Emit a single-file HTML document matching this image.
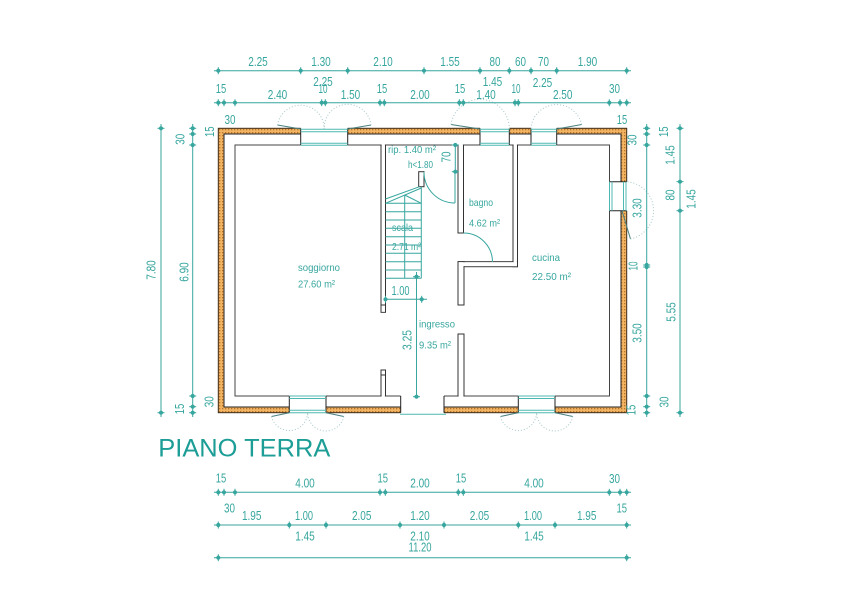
<!DOCTYPE html>
<html><head><meta charset="utf-8"><style>
html,body{margin:0;padding:0;background:#fff;}
svg{display:block}
text{font-family:"Liberation Sans",sans-serif;fill:#37a69e;stroke:none}
.d{font-size:13px}
.r{font-size:10.5px}
.ti{font-size:25px;fill:#1c9d96}
</style></head><body>
<svg width="848" height="600" viewBox="0 0 848 600" xmlns="http://www.w3.org/2000/svg">
<defs>
<pattern id="h" width="3" height="3" patternUnits="userSpaceOnUse"><rect width="3" height="3" fill="#f2b460"/><rect width="1.3" height="1.3" fill="#b57530"/></pattern>
<g id="t"><circle r="1.6"/><line x1="0" y1="-3.5" x2="0" y2="3.5"/></g>
<g id="v"><circle r="1.6"/><line x1="-3.5" y1="0" x2="3.5" y2="0"/></g>
</defs>
<rect width="848" height="600" fill="#fff"/>

<!-- outer walls -->
<rect x="218.3" y="128.3" width="408.4" height="284.4" fill="url(#h)" stroke="#3b2a1a" stroke-width="1"/>
<rect x="224" y="134" width="397" height="273" fill="#fff" stroke="#222" stroke-width="1"/>
<rect x="235" y="145" width="374.5" height="251" fill="#fff" stroke="#444" stroke-width="1"/>

<!-- openings -->
<g fill="#fff" stroke="none">
<rect x="300.7" y="127" width="47" height="19"/>
<rect x="480" y="127" width="29.3" height="19"/>
<rect x="531" y="127" width="25.7" height="19"/>
<rect x="608.5" y="181.7" width="19.5" height="29"/>
<rect x="289.3" y="395" width="36.7" height="19"/>
<rect x="518.3" y="395" width="36.7" height="19"/>
<rect x="400.7" y="395" width="43.3" height="19"/>
</g>
<g stroke="#222" stroke-width="1">
<line x1="300.7" y1="128.3" x2="300.7" y2="145"/><line x1="347.7" y1="128.3" x2="347.7" y2="145"/>
<line x1="480" y1="128.3" x2="480" y2="145"/><line x1="509.3" y1="128.3" x2="509.3" y2="145"/>
<line x1="531" y1="128.3" x2="531" y2="145"/><line x1="556.7" y1="128.3" x2="556.7" y2="145"/>
<line x1="609.5" y1="181.7" x2="626.7" y2="181.7"/><line x1="609.5" y1="210.7" x2="626.7" y2="210.7"/>
<line x1="289.3" y1="396" x2="289.3" y2="412.7"/><line x1="326" y1="396" x2="326" y2="412.7"/>
<line x1="518.3" y1="396" x2="518.3" y2="412.7"/><line x1="555" y1="396" x2="555" y2="412.7"/>
<line x1="400.7" y1="396" x2="400.7" y2="412.7"/><line x1="444" y1="396" x2="444" y2="412.7"/>
</g>
<!-- window frames -->
<g stroke="#4fb8b0" stroke-width="1" fill="none">
<path d="M300.7 129.3H347.7M300.7 131.8H347.7M300.7 143.2H347.7M300.7 145.3H347.7"/>
<path d="M480 129.3H509.3M480 131.8H509.3M480 143.2H509.3M480 145.3H509.3"/>
<path d="M531 129.3H556.7M531 131.8H556.7M531 143.2H556.7M531 145.3H556.7"/>
<path d="M609.5 181.7V210.7M612 181.7V210.7M623.5 181.7V210.7M626 181.7V210.7"/>
<path d="M289.3 396H326M289.3 398.5H326M289.3 410.3H326M289.3 412.7H326"/>
<path d="M518.3 396H555M518.3 398.5H555M518.3 410.3H555M518.3 412.7H555"/>
<path d="M400 414.3H446"/>
</g>

<!-- door leaves and swings -->
<g stroke="#4a8080" stroke-width="1" fill="none">
<line x1="300.7" y1="129" x2="277.5" y2="125"/>
<line x1="347.7" y1="129" x2="371" y2="125"/>
<line x1="480" y1="129" x2="451" y2="124.5"/>
<line x1="556.7" y1="129" x2="581.7" y2="124.5"/>
<line x1="622" y1="210.7" x2="630.5" y2="239"/>
<line x1="289.3" y1="412.7" x2="271.5" y2="416.5"/>
<line x1="326" y1="412.7" x2="343.8" y2="416.5"/>
<line x1="518.3" y1="412.7" x2="500.5" y2="416.5"/>
<line x1="555" y1="412.7" x2="572.8" y2="416.5"/>
</g>
<g stroke="#a6c8c8" stroke-width="1" fill="none" stroke-dasharray="1 2">
<path d="M277.5 125A23.5 23.5 0 0 1 324.2 129"/>
<path d="M371 125A23.5 23.5 0 0 0 324.2 129"/>
<path d="M451 124.5A29.3 29.3 0 0 1 509.3 129"/>
<path d="M581.7 124.5A25.7 25.7 0 0 0 531 129"/>
<path d="M630.5 239A29 29 0 0 0 626.7 181.7"/>
<path d="M271.5 416.5A18.3 18.3 0 0 0 307.6 412.7"/>
<path d="M343.8 416.5A18.3 18.3 0 0 1 307.6 412.7"/>
<path d="M500.5 416.5A18.3 18.3 0 0 0 536.6 412.7"/>
<path d="M572.8 416.5A18.3 18.3 0 0 1 536.6 412.7"/>
</g>

<!-- partitions -->
<g fill="#fff" stroke="#333" stroke-width="1">
<rect x="381" y="145" width="4.5" height="167.3"/>
<rect x="381" y="370" width="4.5" height="26"/>
<rect x="458" y="145" width="5.5" height="88"/>
<rect x="513" y="145" width="4.5" height="121.7"/>
<rect x="458" y="261.7" width="59.5" height="5"/>
<rect x="458" y="261.7" width="6" height="43.3"/>
<rect x="458" y="334" width="6" height="62"/>
<rect x="418.7" y="171.7" width="5.3" height="15"/>
</g>
<g fill="#fff" stroke="none">
<rect x="381.6" y="143.5" width="3.3" height="168.2"/>
<rect x="381.6" y="370.6" width="3.3" height="27"/>
<rect x="458.6" y="143.5" width="4.3" height="88.9"/>
<rect x="513.6" y="143.5" width="3.3" height="122.6"/>
<rect x="458.6" y="262.3" width="58.3" height="3.8"/>
<rect x="458.6" y="262.3" width="4.8" height="42.1"/>
<rect x="458.6" y="334.6" width="4.8" height="63"/>
</g>
<g stroke="#333" stroke-width="1">
<line x1="381" y1="305" x2="385.5" y2="305"/>
<line x1="381" y1="375" x2="385.5" y2="375"/>
</g>

<!-- interior doors -->
<g stroke="#37a69e" stroke-width="1" fill="none">
<path d="M424 172A31 31 0 0 0 455 203"/>
<line x1="455" y1="172" x2="455" y2="203"/>
<path d="M463.5 233A29 29 0 0 1 492.5 262"/>
</g>

<!-- stairs -->
<g stroke="#37a69e" stroke-width="1" fill="none">
<line x1="421.3" y1="186.7" x2="421.3" y2="278.3"/>
<path d="M385.5 203.3H421.3M385.5 211.7H421.3M385.5 220H421.3M385.5 228.3H421.3M385.5 236.7H421.3M385.5 245H421.3M385.5 253.3H421.3M385.5 261.7H421.3M385.5 270H421.3M385.5 278.3H421.3"/>
<line x1="385.5" y1="203.3" x2="421.3" y2="188"/>
<line x1="385.5" y1="199" x2="419.5" y2="186.7"/>
<line x1="404.7" y1="195" x2="421.3" y2="203.3"/>
<line x1="404.7" y1="195" x2="404.7" y2="278.3"/>
</g>

<!-- dimension lines -->
<g stroke="#37a69e" stroke-width="1" fill="#37a69e">
<line x1="214" y1="70.7" x2="631" y2="70.7"/>
<line x1="214" y1="102.7" x2="631" y2="102.7"/>
<line x1="161" y1="124" x2="161" y2="417"/>
<line x1="192.7" y1="124" x2="192.7" y2="417"/>
<line x1="646.7" y1="124" x2="646.7" y2="417"/>
<line x1="680" y1="124" x2="680" y2="417"/>
<line x1="214" y1="492.3" x2="631" y2="492.3"/>
<line x1="214" y1="525" x2="631" y2="525"/>
<line x1="214" y1="557.7" x2="631" y2="557.7"/>
<line x1="455.3" y1="145" x2="455.3" y2="171.7"/>
<line x1="385" y1="299.3" x2="427" y2="299.3"/>
<line x1="416.5" y1="272" x2="416.5" y2="396.7"/>

<use href="#t" x="218.3" y="70.7"/><use href="#t" x="300.7" y="70.7"/><use href="#t" x="347.7" y="70.7"/><use href="#t" x="424" y="70.7"/><use href="#t" x="480" y="70.7"/><use href="#t" x="509.3" y="70.7"/><use href="#t" x="531" y="70.7"/><use href="#t" x="556.7" y="70.7"/><use href="#t" x="626.7" y="70.7"/>

<use href="#t" x="218.3" y="102.7"/><use href="#t" x="224" y="102.7"/><use href="#t" x="235" y="102.7"/><use href="#t" x="321.7" y="102.7"/><use href="#t" x="325.3" y="102.7"/><use href="#t" x="380" y="102.7"/><use href="#t" x="384.3" y="102.7"/><use href="#t" x="459.3" y="102.7"/><use href="#t" x="463.3" y="102.7"/><use href="#t" x="515" y="102.7"/><use href="#t" x="518.3" y="102.7"/><use href="#t" x="609.3" y="102.7"/><use href="#t" x="620" y="102.7"/><use href="#t" x="626.7" y="102.7"/>

<use href="#v" x="161" y="128.3"/><use href="#v" x="161" y="412.7"/>
<use href="#v" x="192.7" y="128.3"/><use href="#v" x="192.7" y="134"/><use href="#v" x="192.7" y="145"/><use href="#v" x="192.7" y="396"/><use href="#v" x="192.7" y="406.7"/><use href="#v" x="192.7" y="412.7"/>
<use href="#v" x="646.7" y="128.3"/><use href="#v" x="646.7" y="134"/><use href="#v" x="646.7" y="145"/><use href="#v" x="646.7" y="265"/><use href="#v" x="646.7" y="267"/><use href="#v" x="646.7" y="396"/><use href="#v" x="646.7" y="406.7"/><use href="#v" x="646.7" y="412.7"/>
<use href="#v" x="680" y="128.3"/><use href="#v" x="680" y="181.7"/><use href="#v" x="680" y="210.7"/><use href="#v" x="680" y="412.7"/>

<use href="#t" x="218.3" y="492.3"/><use href="#t" x="224" y="492.3"/><use href="#t" x="235" y="492.3"/><use href="#t" x="380" y="492.3"/><use href="#t" x="385.3" y="492.3"/><use href="#t" x="458.3" y="492.3"/><use href="#t" x="463.3" y="492.3"/><use href="#t" x="609.3" y="492.3"/><use href="#t" x="620" y="492.3"/><use href="#t" x="626.7" y="492.3"/>

<use href="#t" x="218.3" y="525"/><use href="#t" x="289.3" y="525"/><use href="#t" x="326" y="525"/><use href="#t" x="400" y="525"/><use href="#t" x="444" y="525"/><use href="#t" x="518.3" y="525"/><use href="#t" x="555" y="525"/><use href="#t" x="626.7" y="525"/>

<use href="#t" x="218.3" y="557.7"/><use href="#t" x="626.7" y="557.7"/>

<use href="#v" x="455.3" y="145"/><use href="#v" x="455.3" y="171.7"/>
<use href="#t" x="385.5" y="299.3"/><use href="#t" x="421.7" y="299.3"/>
<use href="#v" x="416.5" y="276.7"/><use href="#v" x="416.5" y="396.7"/>
</g>

<!-- dimension labels horizontal -->
<g class="d" text-anchor="middle">
<text class="d" x="258" y="66" textLength="19.5" lengthAdjust="spacingAndGlyphs">2.25</text>
<text class="d" x="321" y="66" textLength="19.5" lengthAdjust="spacingAndGlyphs">1.30</text>
<text class="d" x="383" y="66" textLength="19.5" lengthAdjust="spacingAndGlyphs">2.10</text>
<text class="d" x="450" y="66" textLength="19.5" lengthAdjust="spacingAndGlyphs">1.55</text>
<text class="d" x="495" y="66" textLength="11" lengthAdjust="spacingAndGlyphs">80</text>
<text class="d" x="520.5" y="66" textLength="11" lengthAdjust="spacingAndGlyphs">60</text>
<text class="d" x="543.5" y="66" textLength="11" lengthAdjust="spacingAndGlyphs">70</text>
<text class="d" x="587.5" y="66" textLength="19.5" lengthAdjust="spacingAndGlyphs">1.90</text>

<text class="d" x="323" y="86" textLength="19.5" lengthAdjust="spacingAndGlyphs">2.25</text>
<text class="d" x="492.5" y="86" textLength="19.5" lengthAdjust="spacingAndGlyphs">1.45</text>
<text class="d" x="542.5" y="87" textLength="19.5" lengthAdjust="spacingAndGlyphs">2.25</text>

<text class="d" x="221" y="93" textLength="10.5" lengthAdjust="spacingAndGlyphs">15</text>
<text class="d" x="323" y="93" textLength="9" lengthAdjust="spacingAndGlyphs">10</text>
<text class="d" x="382" y="93" textLength="10.5" lengthAdjust="spacingAndGlyphs">15</text>
<text class="d" x="460" y="93" textLength="10.5" lengthAdjust="spacingAndGlyphs">15</text>
<text class="d" x="516" y="93" textLength="9" lengthAdjust="spacingAndGlyphs">10</text>
<text class="d" x="614.5" y="93" textLength="11" lengthAdjust="spacingAndGlyphs">30</text>

<text class="d" x="277.5" y="99" textLength="19.5" lengthAdjust="spacingAndGlyphs">2.40</text>
<text class="d" x="350.5" y="99" textLength="19.5" lengthAdjust="spacingAndGlyphs">1.50</text>
<text class="d" x="420" y="99" textLength="19.5" lengthAdjust="spacingAndGlyphs">2.00</text>
<text class="d" x="486" y="99" textLength="19.5" lengthAdjust="spacingAndGlyphs">1.40</text>
<text class="d" x="562.7" y="99" textLength="19.5" lengthAdjust="spacingAndGlyphs">2.50</text>

<text class="d" x="230" y="124" textLength="11" lengthAdjust="spacingAndGlyphs">30</text>
<text class="d" x="622" y="124" textLength="10.5" lengthAdjust="spacingAndGlyphs">15</text>

<text class="d" x="221" y="482.7" textLength="10.5" lengthAdjust="spacingAndGlyphs">15</text>
<text class="d" x="305" y="487.3" textLength="19.5" lengthAdjust="spacingAndGlyphs">4.00</text>
<text class="d" x="382.7" y="482.7" textLength="10.5" lengthAdjust="spacingAndGlyphs">15</text>
<text class="d" x="420" y="487.3" textLength="19.5" lengthAdjust="spacingAndGlyphs">2.00</text>
<text class="d" x="461" y="482.7" textLength="10.5" lengthAdjust="spacingAndGlyphs">15</text>
<text class="d" x="534" y="487.3" textLength="19.5" lengthAdjust="spacingAndGlyphs">4.00</text>
<text class="d" x="614.5" y="483" textLength="11" lengthAdjust="spacingAndGlyphs">30</text>
<text class="d" x="229.5" y="512.7" textLength="11" lengthAdjust="spacingAndGlyphs">30</text>
<text class="d" x="621.7" y="512.7" textLength="10.5" lengthAdjust="spacingAndGlyphs">15</text>

<text class="d" x="251.7" y="520" textLength="19.5" lengthAdjust="spacingAndGlyphs">1.95</text>
<text class="d" x="304" y="520" textLength="18" lengthAdjust="spacingAndGlyphs">1.00</text>
<text class="d" x="361.7" y="520" textLength="19.5" lengthAdjust="spacingAndGlyphs">2.05</text>
<text class="d" x="420" y="520" textLength="19.5" lengthAdjust="spacingAndGlyphs">1.20</text>
<text class="d" x="479.5" y="520" textLength="19.5" lengthAdjust="spacingAndGlyphs">2.05</text>
<text class="d" x="533" y="520" textLength="18" lengthAdjust="spacingAndGlyphs">1.00</text>
<text class="d" x="586.7" y="520" textLength="19.5" lengthAdjust="spacingAndGlyphs">1.95</text>

<text class="d" x="305" y="540.7" textLength="19.5" lengthAdjust="spacingAndGlyphs">1.45</text>
<text class="d" x="420" y="540.7" textLength="19.5" lengthAdjust="spacingAndGlyphs">2.10</text>
<text class="d" x="534" y="540.7" textLength="19.5" lengthAdjust="spacingAndGlyphs">1.45</text>
<text class="d" x="420" y="551.7" textLength="23" lengthAdjust="spacingAndGlyphs">11.20</text>

<text class="d" x="400.5" y="295" textLength="18" lengthAdjust="spacingAndGlyphs">1.00</text>
</g>

<!-- rotated labels -->
<g text-anchor="middle">
<text class="d" dy="4.6" transform="translate(151,270) rotate(-90)" textLength="19.5" lengthAdjust="spacingAndGlyphs">7.80</text>
<text class="d" dy="4.6" transform="translate(184,272) rotate(-90)" textLength="19.5" lengthAdjust="spacingAndGlyphs">6.90</text>
<text class="d" dy="4.6" transform="translate(180,139.3) rotate(-90)" textLength="11" lengthAdjust="spacingAndGlyphs">30</text>
<text class="d" dy="4.6" transform="translate(209.3,131.7) rotate(-90)" textLength="10.5" lengthAdjust="spacingAndGlyphs">15</text>
<text class="d" dy="4.6" transform="translate(179.3,409) rotate(-90)" textLength="10.5" lengthAdjust="spacingAndGlyphs">15</text>
<text class="d" dy="4.6" transform="translate(209,401.7) rotate(-90)" textLength="11" lengthAdjust="spacingAndGlyphs">30</text>

<text class="d" dy="4.6" transform="translate(632,140) rotate(-90)" textLength="11" lengthAdjust="spacingAndGlyphs">30</text>
<text class="d" dy="4.6" transform="translate(663.3,131.7) rotate(-90)" textLength="10.5" lengthAdjust="spacingAndGlyphs">15</text>
<text class="d" dy="4.6" transform="translate(670,155) rotate(-90)" textLength="19.5" lengthAdjust="spacingAndGlyphs">1.45</text>
<text class="d" dy="4.6" transform="translate(670,195) rotate(-90)" textLength="11" lengthAdjust="spacingAndGlyphs">80</text>
<text class="d" dy="4.6" transform="translate(637,208) rotate(-90)" textLength="19.5" lengthAdjust="spacingAndGlyphs">3.30</text>
<text class="d" dy="4.6" transform="translate(633,266) rotate(-90)" textLength="9" lengthAdjust="spacingAndGlyphs">10</text>
<text class="d" dy="4.6" transform="translate(671,312) rotate(-90)" textLength="19.5" lengthAdjust="spacingAndGlyphs">5.55</text>
<text class="d" dy="4.6" transform="translate(637,333) rotate(-90)" textLength="19.5" lengthAdjust="spacingAndGlyphs">3.50</text>
<text class="d" dy="4.6" transform="translate(664,402) rotate(-90)" textLength="11" lengthAdjust="spacingAndGlyphs">30</text>
<text class="d" dy="4.6" transform="translate(631,410) rotate(-90)" textLength="10.5" lengthAdjust="spacingAndGlyphs">15</text>
<text class="d" dy="4.6" transform="translate(691,199) rotate(-90)" textLength="19.5" lengthAdjust="spacingAndGlyphs">1.45</text>

<text class="d" dy="4.6" transform="translate(446,157) rotate(-90)" textLength="11" lengthAdjust="spacingAndGlyphs">70</text>
<text class="d" dy="4.6" transform="translate(406.7,340) rotate(-90)" textLength="20" lengthAdjust="spacingAndGlyphs">3.25</text>
</g>

<!-- room labels -->
<g>
<text class="r" x="298" y="271" textLength="42" lengthAdjust="spacingAndGlyphs">soggiorno</text>
<text class="r" x="298" y="287.5" textLength="37" lengthAdjust="spacingAndGlyphs">27.60 m²</text>
<text class="r" x="388" y="153" textLength="48" lengthAdjust="spacingAndGlyphs">rip.  1.40 m²</text>
<text class="r" x="408" y="168" textLength="25" lengthAdjust="spacingAndGlyphs">h&lt;1.80</text>
<text class="r" x="392" y="231" textLength="21" lengthAdjust="spacingAndGlyphs">scala</text>
<text class="r" x="392" y="250" textLength="29" lengthAdjust="spacingAndGlyphs">2.71 m²</text>
<text class="r" x="469" y="206" textLength="24" lengthAdjust="spacingAndGlyphs">bagno</text>
<text class="r" x="469" y="226.7" textLength="31" lengthAdjust="spacingAndGlyphs">4.62 m²</text>
<text class="r" x="532" y="261" textLength="28" lengthAdjust="spacingAndGlyphs">cucina</text>
<text class="r" x="532" y="280" textLength="39" lengthAdjust="spacingAndGlyphs">22.50 m²</text>
<text class="r" x="419" y="327.5" textLength="36" lengthAdjust="spacingAndGlyphs">ingresso</text>
<text class="r" x="419" y="348.3" textLength="32" lengthAdjust="spacingAndGlyphs">9.35 m²</text>
</g>

<text class="ti" x="158.3" y="456.5" textLength="172" lengthAdjust="spacingAndGlyphs">PIANO TERRA</text>
</svg>
</body></html>
